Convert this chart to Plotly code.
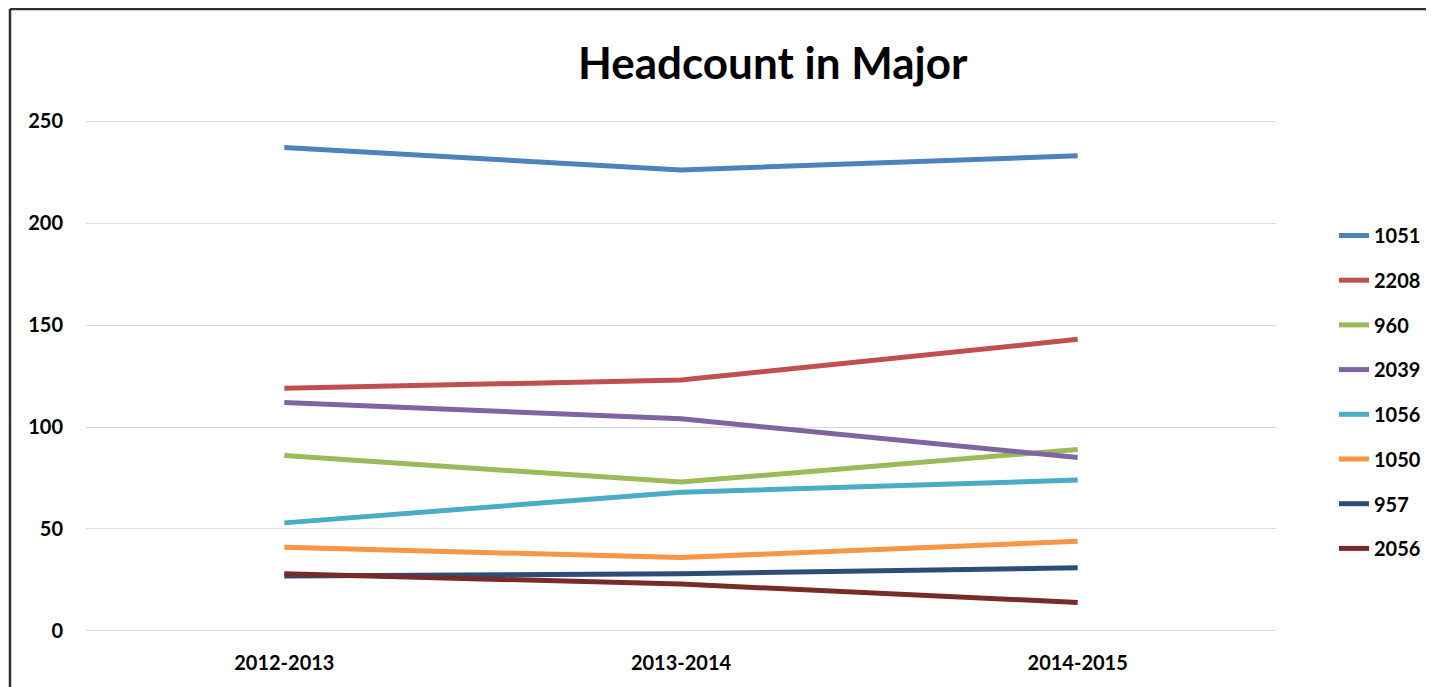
import plotly.graph_objects as go

years = ["2012-2013", "2013-2014", "2014-2015"]
series_names = ["1051", "2208", "960", "2039", "1056", "1050", "957", "2056"]
v1051 = [237, 226, 233]
v2208 = [119, 123, 143]
v960 = [86, 73, 89]
v2039 = [112, 104, 85]
v1056 = [53, 68, 74]
v1050 = [41, 36, 44]
v957 = [27, 28, 31]
v2056 = [28, 23, 14]
values = [v1051, v2208, v960, v2039, v1056, v1050, v957, v2056]
colors = ["#4F81BD", "#C0504D", "#9BBB59", "#8064A2", "#4BACC6", "#F79646", "#2C4D75", "#772C2A"]

W, H = 1434, 687
OFF = 8  # page body margin
L, R, T, B = 86 - OFF, 158 + OFF, 117 - OFF, 54 + OFF
PW = W - L - R
PH = H - T - B

def px2x(p):
    return (p - OFF - L) / PW

def py2y(p):
    return (H - B - (p - OFF)) / PH

fig = go.Figure()
for i, (name, vals, col) in enumerate(zip(series_names, values, colors)):
    fig.add_trace(go.Scatter(
        x=years, y=vals, name=name, mode="lines",
        line=dict(color=col, width=5),
        legendgroup=name,
    ))

font_family = "Lato"
fig.update_layout(
    width=W, height=H,
    margin=dict(l=L, r=R, t=T, b=B),
    paper_bgcolor="white", plot_bgcolor="white",
    font=dict(family=font_family, size=20, color="black"),
    showlegend=True,
    legend=dict(
        x=px2x(1334), y=py2y(216), xanchor="left", yanchor="top",
        font=dict(family=font_family, size=20, color="black", weight="bold"),
        tracegroupgap=15.7, bgcolor="rgba(0,0,0,0)",
    ),
    xaxis=dict(
        range=[-0.5, 2.5], showgrid=False, zeroline=False, showline=False,
        tickfont=dict(family=font_family, size=20, color="black", weight="bold"),
        ticks="", ticklabelstandoff=16,
    ),
    yaxis=dict(
        range=[-1, 252], tickvals=[0, 50, 100, 150, 200, 250],
        showgrid=True, gridcolor="#D9D9D9", gridwidth=1.3,
        zeroline=False, showline=False,
        tickfont=dict(family=font_family, size=20, color="black", weight="bold"),
        ticks="", ticklabelstandoff=22,
    ),
    annotations=[dict(
        text="Headcount in Major", xref="paper", yref="paper",
        x=px2x(773), y=py2y(62), xanchor="center", yanchor="middle",
        showarrow=False,
        font=dict(family=font_family, size=44, color="black", weight="bold"),
    )],
    shapes=[
        dict(type="line", xref="paper", yref="paper", x0=px2x(10), x1=px2x(10),
             y0=py2y(9), y1=py2y(700), line=dict(color="#2F2F3A", width=2.5)),
        dict(type="line", xref="paper", yref="paper", x0=px2x(10), x1=px2x(1432),
             y0=py2y(9), y1=py2y(9), line=dict(color="#2F2F3A", width=2.5)),
        dict(type="line", xref="paper", yref="paper", x0=px2x(1432), x1=px2x(1432),
             y0=py2y(9), y1=py2y(700), line=dict(color="#2F2F3A", width=2.5)),
    ],
)

fig.write_html("out.html")
